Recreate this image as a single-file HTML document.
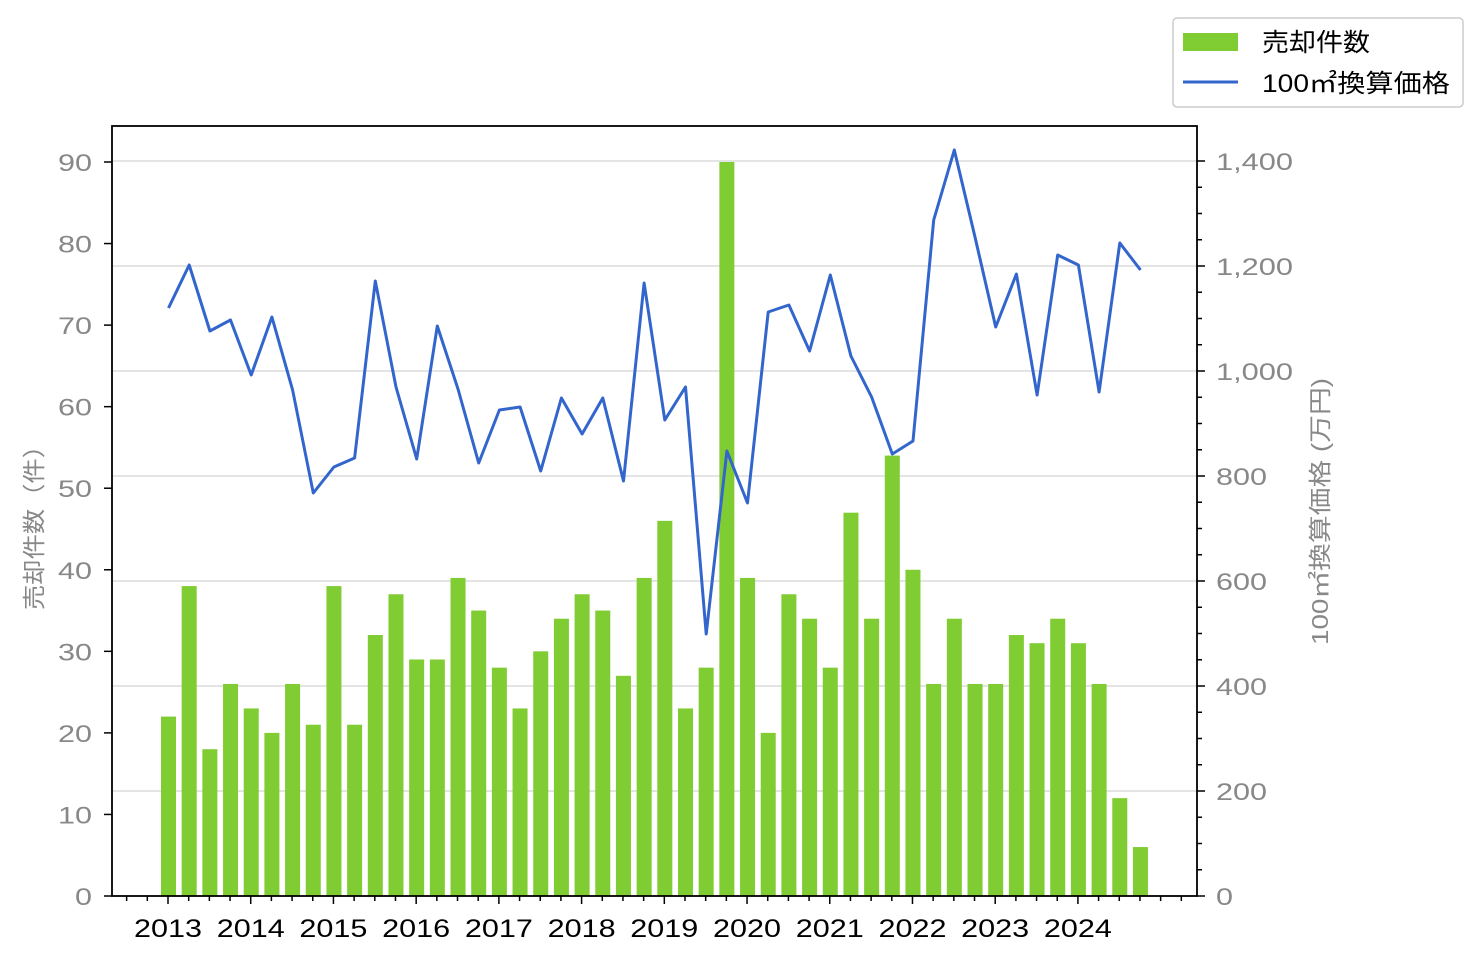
<!DOCTYPE html><html><head><meta charset="utf-8"><style>body{margin:0;background:#fff}svg{display:block}text{font-family:"Liberation Sans","Noto Sans CJK JP",sans-serif}</style></head><body>
<svg id="s" width="1483" height="961" xmlns="http://www.w3.org/2000/svg"></svg>
<script>
const s=document.getElementById('s');let h='';
const x0=168.5,dx=20.68;
for(let k=1;k<=7;k++){const y=896-105*k;h+=`<line x1="112" x2="1197" y1="${y}" y2="${y}" stroke="#d3d3d3" stroke-width="1.3"/>`;}
const bars=[22,38,18,26,23,20,26,21,38,21,32,37,29,29,39,35,28,23,30,34,37,35,27,39,46,23,28,90,39,20,37,34,28,47,34,54,40,26,34,26,26,32,31,34,31,26,12,6];
const u=(896-162)/90;
bars.forEach((v,i)=>{const cx=x0+i*dx;h+=`<rect x="${cx-7.5}" y="${896-v*u}" width="15" height="${v*u}" fill="#80cc33"/>`;});
const ly=[308,265,331,320,375,317,390,493,467,458,281,387,459,326,389,463,410,407,471,398,434,398,481,283,420,387,634,451,503,312,305,351,275,356,397,454,441,220,150,237,327,274,395,255,265,392,243,270];
h+=`<polyline fill="none" stroke="#3366cc" stroke-width="3" stroke-linejoin="round" points="${ly.map((y,i)=>(x0+i*dx).toFixed(1)+','+y).join(' ')}"/>`;
h+=`<rect x="112" y="126" width="1085" height="770" fill="none" stroke="#000" stroke-width="1.8"/>`;
for(let k=0;k<=9;k++){const y=896-k*10*u;const t=''+k*10;h+=`<line x1="104" x2="112" y1="${y}" y2="${y}" stroke="#000" stroke-width="1.5"/><text x="${92-t.length*17}" y="${y+9}" font-size="24" fill="#888" textLength="${t.length*17}" lengthAdjust="spacingAndGlyphs">${t}</text>`;}
const rl=['0','200','400','600','800','1,000','1,200','1,400'];
const rw=[17,51,51,51,51,77,77,77];
for(let k=0;k<=28;k++){const y=896-k*26.25;const maj=k%4==0;h+=`<line x1="1197" x2="${maj?1205:1202}" y1="${y}" y2="${y}" stroke="#000" stroke-width="1.5"/>`;if(maj)h+=`<text x="1216" y="${y+9}" font-size="24" fill="#888" textLength="${rw[k/4]}" lengthAdjust="spacingAndGlyphs">${rl[k/4]}</text>`;}
for(let i=-2;i<=49;i++){const x=x0-0.5+i*dx;if(x>1195)break;const maj=(i%4==0)&&i>=0&&i<48;h+=`<line x1="${x}" x2="${x}" y1="896" y2="${maj?904:901}" stroke="#000" stroke-width="1.5"/>`;if(maj)h+=`<text x="${x-34}" y="937" font-size="25" fill="#000" textLength="68" lengthAdjust="spacingAndGlyphs">${2013+i/4}</text>`;}
h+=`<text transform="translate(42,610) rotate(-90)" font-size="23" fill="#888" textLength="177" lengthAdjust="spacingAndGlyphs">売却件数（件）</text>`;
h+=`<text transform="translate(1328,645) rotate(-90)" font-size="23" fill="#888" textLength="267" lengthAdjust="spacingAndGlyphs">100㎡換算価格 (万円)</text>`;
h+=`<rect x="1173" y="18" width="290" height="89" rx="4" fill="#fff" stroke="#ccc" stroke-width="1.5"/>`;
h+=`<rect x="1183" y="33" width="55" height="18" fill="#80cc33"/><text x="1262" y="51" font-size="25" textLength="108" lengthAdjust="spacingAndGlyphs">売却件数</text>`;
h+=`<line x1="1183" x2="1238" y1="82" y2="82" stroke="#3366cc" stroke-width="3"/><text x="1262" y="92" font-size="25" textLength="188" lengthAdjust="spacingAndGlyphs">100㎡換算価格</text>`;
s.innerHTML=h;
</script></body></html>
